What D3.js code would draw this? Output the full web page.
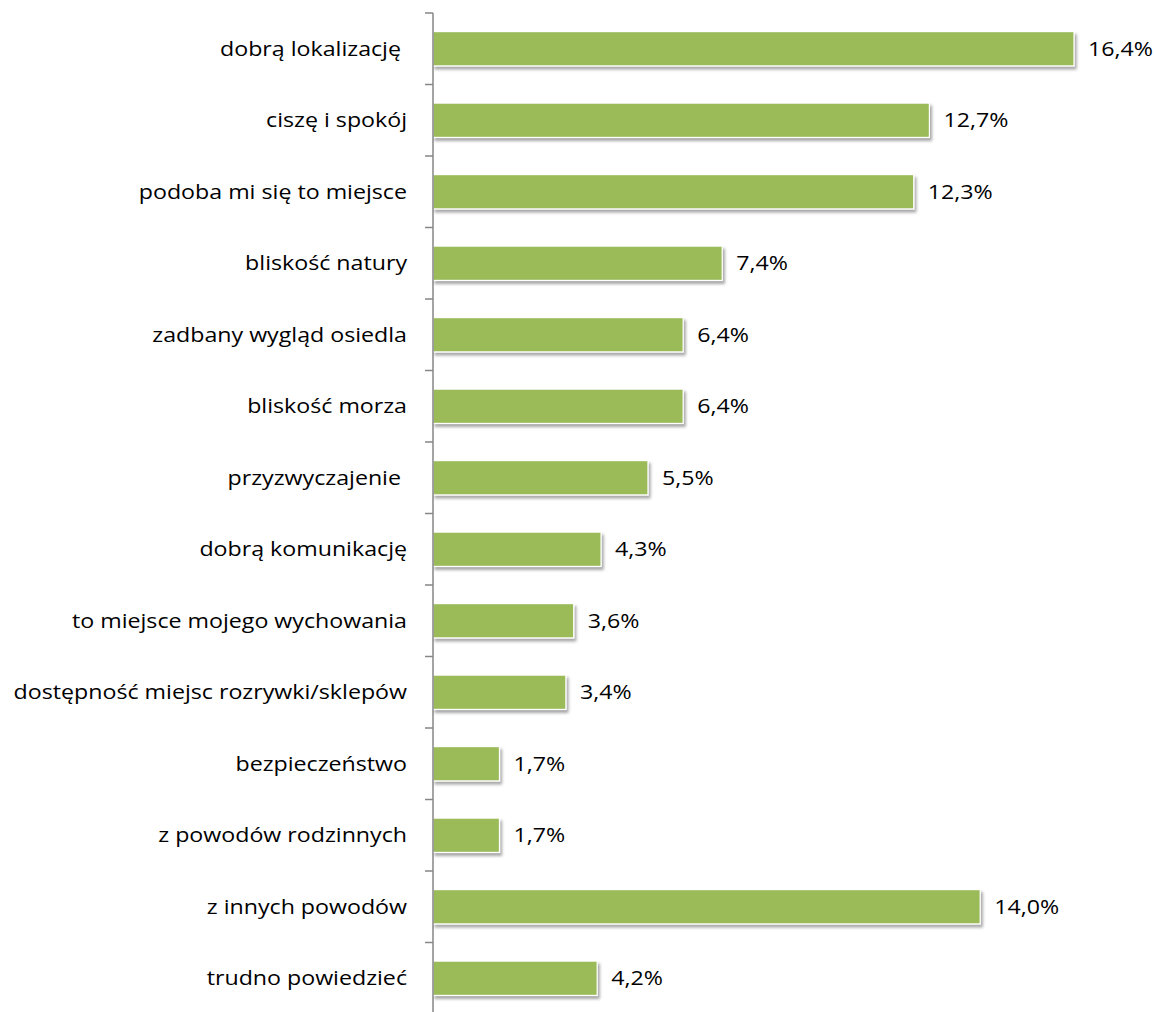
<!DOCTYPE html>
<html>
<head>
<meta charset="utf-8">
<script src="https://cdn.jsdelivr.net/npm/d3@7"></script>
<style>
  html, body { margin: 0; padding: 0; background: #fff; }
  svg text { font-family: "Open Sans", Lato, sans-serif; fill: #000; white-space: pre; }
</style>
</head>
<body>
<svg id="chart" width="1154" height="1012"></svg>
<script>
// Reasons for living in the area (share of answers, %)
const categories = [
  "dobrą lokalizację ",
  "ciszę i spokój",
  "podoba mi się to miejsce",
  "bliskość natury",
  "zadbany wygląd osiedla",
  "bliskość morza",
  "przyzwyczajenie ",
  "dobrą komunikację",
  "to miejsce mojego wychowania",
  "dostępność miejsc rozrywki/sklepów",
  "bezpieczeństwo",
  "z powodów rodzinnych",
  "z innych powodów",
  "trudno powiedzieć"
];
const values = [16.4, 12.7, 12.3, 7.4, 6.4, 6.4, 5.5, 4.3, 3.6, 3.4, 1.7, 1.7, 14.0, 4.2];
const valueLabels = ["16,4%", "12,7%", "12,3%", "7,4%", "6,4%", "6,4%", "5,5%", "4,3%", "3,6%", "3,4%", "1,7%", "1,7%", "14,0%", "4,2%"];

const svg = d3.select("#chart");
const plotLeft = 433, plotTop = 13, plotBottom = 1014;
const fontSize = 20;
const stretch = 1.16; // horizontal widening of the label glyphs

const x = d3.scaleLinear().domain([0, 16.4]).range([plotLeft, 1074]);
const y = d3.scaleBand().domain(categories).range([plotTop, plotBottom]).paddingInner(0.52).paddingOuter(0.26);

const defs = svg.append("defs");
const f = defs.append("filter").attr("id", "shadow")
  .attr("x", "-5%").attr("y", "-30%").attr("width", "115%").attr("height", "170%");
f.append("feDropShadow").attr("dx", 2).attr("dy", 3).attr("stdDeviation", 1.6)
  .attr("flood-color", "#000").attr("flood-opacity", 0.35);

// bars with white edge and soft shadow
svg.append("g").selectAll("rect").data(values).join("rect")
  .attr("x", x(0))
  .attr("y", (d, i) => y(categories[i]))
  .attr("width", d => x(d) - x(0))
  .attr("height", y.bandwidth())
  .attr("fill", "#9BBB59")
  .attr("stroke", "#ffffff")
  .attr("stroke-width", 1.2)
  .attr("filter", "url(#shadow)");

// value labels
svg.append("g").selectAll("text").data(values).join("text")
  .attr("transform", (d, i) => `translate(${x(d) + 14},${y(categories[i]) + y.bandwidth() / 2}) scale(${stretch},1)`)
  .attr("dy", "0.35em")
  .attr("font-size", fontSize)
  .text((d, i) => valueLabels[i]);

// category axis
const boundaries = d3.range(categories.length + 1).map(i => plotTop + i * (plotBottom - plotTop) / categories.length);
const axis = svg.append("g");
axis.append("line")
  .attr("x1", plotLeft).attr("x2", plotLeft)
  .attr("y1", plotTop).attr("y2", plotBottom)
  .attr("stroke", "#868686").attr("stroke-width", 1.5);
axis.selectAll("line.tick").data(boundaries).join("line")
  .attr("class", "tick")
  .attr("x1", plotLeft - 8).attr("x2", plotLeft)
  .attr("y1", d => d).attr("y2", d => d)
  .attr("stroke", "#868686").attr("stroke-width", 1.5);

axis.selectAll("text").data(categories).join("text")
  .attr("transform", d => `translate(${plotLeft - 26},${y(d) + y.bandwidth() / 2}) scale(${stretch},1)`)
  .attr("dy", "0.35em")
  .attr("text-anchor", "end")
  .attr("font-size", fontSize)
  .text(d => d);
</script>
</body>
</html>
